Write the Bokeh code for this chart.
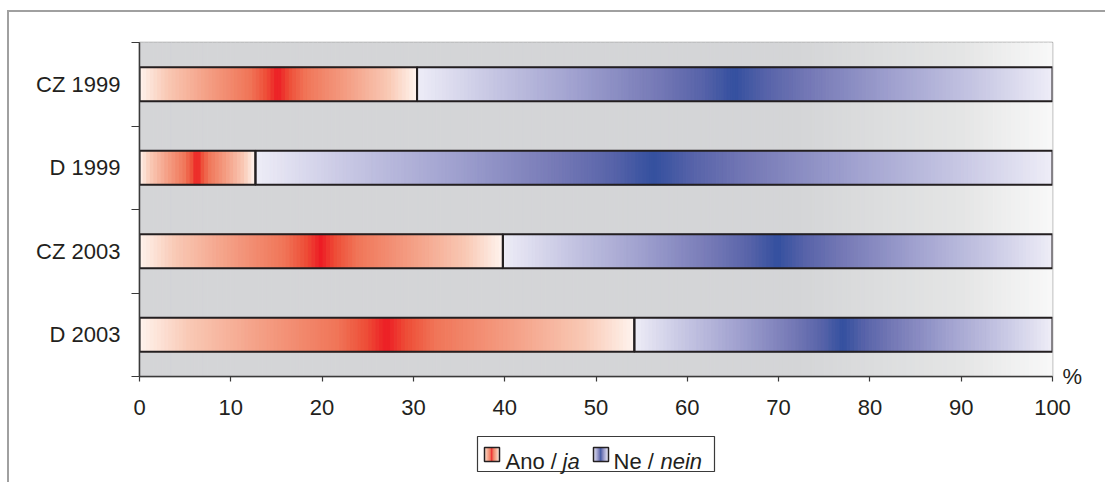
from bokeh.plotting import figure
from bokeh.layouts import column
from bokeh.models import Range1d, FixedTicker, LinearAxis, ColumnDataSource
from bokeh.core.properties import value
from bokeh.embed import file_html
from bokeh.resources import INLINE

# ---------------- data ----------------
categories = ["CZ 1999", "D 1999", "CZ 2003", "D 2003"]
ano = [30.4, 12.7, 39.8, 54.2]      # Ano / ja (%)
ne = [69.6, 87.3, 60.2, 45.8]       # Ne / nein (%)
x_ticks = [0, 10, 20, 30, 40, 50, 60, 70, 80, 90, 100]
legend_plain = ["Ano / ", "Ne / "]
legend_italic = ["ja", "nein"]
unit_label = "%"

# ---------------- styles ----------------
FONT = "Liberation Sans"
FS = "22px"
TXT = "#231f20"
RED_STOPS = [(0, "#fff4ee"), (0.2, "#f9c9b5"), (0.5, "#f49e84"), (0.8, "#f07558"),
             (0.92, "#ee4d37"), (1.0, "#ed1c24")]
BLUE_STOPS = [(0, "#eeedf7"), (0.24, "#c6c6e3"), (0.5, "#a0a1cf"), (0.76, "#7579b6"),
              (0.9, "#5763a9"), (1.0, "#34509f")]
BG_STOPS = [(0, "#d4d5d7"), (0.72, "#d4d5d7"), (0.9, "#e4e5e5"), (1.0, "#f8f8f8")]

# layout (pixels of the page)
BORDER_L = 130
BORDER_R = 53
FRAME_LEFT_PX = 139
FRAME_W_PX = 913
MAIN_TOP = 12
MAIN_H = 414


def hex2rgb(h):
    h = h.lstrip("#")
    return tuple(int(h[i:i + 2], 16) for i in (0, 2, 4))


def interp(stops, s):
    for (p0, c0), (p1, c1) in zip(stops[:-1], stops[1:]):
        if s <= p1:
            f = 0 if p1 == p0 else (s - p0) / (p1 - p0)
            a, b = hex2rgb(c0), hex2rgb(c1)
            return "#%02x%02x%02x" % tuple(round(a[i] + (b[i] - a[i]) * f) for i in range(3))
    return stops[-1][1]


def add_strips(src, x0, x1, y0, y1, stops, step, centered=True):
    n = max(1, round((x1 - x0) / step))
    for k in range(n):
        a = x0 + (x1 - x0) * k / n
        b = x0 + (x1 - x0) * (k + 1) / n
        t = (k + 0.5) / n
        s = 1 - abs(2 * t - 1) if centered else t
        src["left"].append(a)
        src["right"].append(b)
        src["bottom"].append(y0)
        src["top"].append(y1)
        src["color"].append(interp(stops, s))


# ---------------- main chart ----------------
ncat = len(categories)
xr = Range1d(0, 100)
p = figure(width=1096, height=MAIN_H, x_range=xr, y_range=Range1d(0, ncat),
           title=None, output_backend="svg", toolbar_location=None,
           min_border_left=BORDER_L, min_border_right=BORDER_R,
           min_border_top=30, min_border_bottom=50)
p.xgrid.visible = False
p.ygrid.visible = False
p.outline_line_color = "#9d9d9d"
p.outline_line_width = 1.5
p.border_fill_color = "white"

# background gradient
bg = {"left": [], "right": [], "top": [], "bottom": [], "color": []}
add_strips(bg, 0, 100, 0, ncat, BG_STOPS, 0.5, centered=False)
p.quad(left="left", right="right", top="top", bottom="bottom", fill_color="color",
       line_color="color", line_width=1, source=ColumnDataSource(bg))

# bars
BAR_H = 0.41
strips = {"left": [], "right": [], "top": [], "bottom": [], "color": []}
outl = {"left": [], "right": [], "top": [], "bottom": []}
for i, cat in enumerate(categories):
    yc = ncat - 0.5 - i
    segs = [(0, ano[i], RED_STOPS), (ano[i], ano[i] + ne[i], BLUE_STOPS)]
    for x0, x1, stops in segs:
        add_strips(strips, x0, x1, yc - BAR_H / 2, yc + BAR_H / 2, stops, 0.4)
        outl["left"].append(x0)
        outl["right"].append(x1)
        outl["bottom"].append(yc - BAR_H / 2)
        outl["top"].append(yc + BAR_H / 2)

p.quad(left="left", right="right", top="top", bottom="bottom", fill_color="color",
       line_color="color", line_width=1, source=ColumnDataSource(strips))
p.quad(left="left", right="right", top="top", bottom="bottom", fill_color=None,
       line_color="#231f20", line_width=2, source=ColumnDataSource(outl))

# x axis
xa = p.xaxis[0]
xa.ticker = FixedTicker(ticks=x_ticks)
xa.major_tick_out = 5
xa.major_tick_in = 0
xa.minor_tick_out = 0
xa.minor_tick_in = 0
xa.axis_line_color = "#3a3a3a"
xa.axis_line_width = 1.5
xa.major_tick_line_color = "#3a3a3a"
xa.major_tick_line_width = 1.2
xa.major_label_standoff = 18
xa.major_label_text_font = FONT
xa.major_label_text_font_size = FS
xa.major_label_text_color = TXT

# y axis: labels at category centres, ticks at category boundaries
ya = p.yaxis[0]
centres = [ncat - 0.5 - i for i in range(ncat)]
ya.ticker = FixedTicker(ticks=centres, minor_ticks=list(range(ncat + 1)))
ya.major_label_overrides = {c: categories[i] for i, c in enumerate(centres)}
ya.major_tick_out = 0
ya.major_tick_in = 0
ya.minor_tick_out = 8
ya.minor_tick_in = 0
ya.minor_tick_line_color = "#3a3a3a"
ya.minor_tick_line_width = 1.2
ya.axis_line_color = "#3a3a3a"
ya.axis_line_width = 1.5
ya.major_label_standoff = 11
ya.major_label_text_font = FONT
ya.major_label_text_font_size = FS
ya.major_label_text_color = TXT

# unit label "%" on the right, level with the x axis
ra = LinearAxis(ticker=FixedTicker(ticks=[0], minor_ticks=[]),
                major_label_overrides={0: unit_label},
                axis_line_color=None, major_tick_line_color=None, minor_tick_line_color=None,
                major_tick_out=0, major_tick_in=0, minor_tick_out=0, minor_tick_in=0,
                major_label_standoff=10, major_label_text_font=FONT,
                major_label_text_font_size=FS, major_label_text_color=TXT)
p.add_layout(ra, "right")

# ---------------- legend ----------------
LG_H = 56
lg = figure(width=1096, height=LG_H, x_range=xr, y_range=Range1d(LG_H, 0),
            title=None, output_backend="svg", toolbar_location=None,
            x_axis_location=None, y_axis_location=None,
            min_border_left=BORDER_L, min_border_right=BORDER_R,
            min_border_top=0, min_border_bottom=0)
lg.xgrid.visible = False
lg.ygrid.visible = False
lg.outline_line_color = None
lg.border_fill_color = "white"
lg.background_fill_color = "white"

Y0 = MAIN_TOP + MAIN_H   # page y of the legend canvas top


def px2x(px):
    return (px - FRAME_LEFT_PX) * 100.0 / FRAME_W_PX


def py2y(py):
    return py - Y0


lg.quad(left=[px2x(477)], right=[px2x(714)], top=[py2y(436)], bottom=[py2y(471)],
        fill_color="white", line_color="#3a3a3a", line_width=1.2)

icon_px = [484, 593]
ICON_W = 15
plain_px = [505, 613]
italic_px = [562, 660]
icon_src = {"left": [], "right": [], "top": [], "bottom": [], "color": []}
for ix, stops in zip(icon_px, [RED_STOPS, BLUE_STOPS]):
    add_strips(icon_src, px2x(ix), px2x(ix + ICON_W), py2y(447), py2y(461), stops,
               px2x(140) - px2x(139))
lg.quad(left="left", right="right", top="top", bottom="bottom", fill_color="color",
        line_color="color", line_width=0.5, source=ColumnDataSource(icon_src))
lg.quad(left=[px2x(x) for x in icon_px], right=[px2x(x + ICON_W) for x in icon_px],
        top=[py2y(447)] * 2, bottom=[py2y(461)] * 2,
        fill_color=None, line_color="#231f20", line_width=1.5)

base = py2y(461)
lg.text(x=[px2x(x) for x in plain_px], y=[base, base], text=legend_plain, text_font=value(FONT),
        text_font_size=value(FS), text_color=TXT, text_baseline="alphabetic")
lg.text(x=[px2x(x) for x in italic_px], y=[base, base], text=legend_italic, text_font=value(FONT),
        text_font_size=value(FS), text_font_style="italic", text_color=TXT,
        text_baseline="alphabetic")

layout = column(p, lg, spacing=0, margin=(10, 0, 0, 7),
                styles={"border-top": "2px solid #a0a0a0", "border-left": "2px solid #a0a0a0"})

open("out.html", "w").write(file_html(layout, INLINE))
